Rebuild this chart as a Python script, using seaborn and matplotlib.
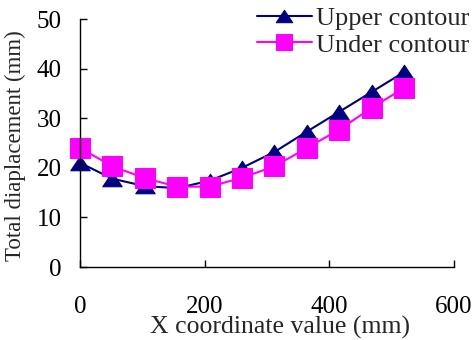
import numpy as np
import pandas as pd
import seaborn as sns
import matplotlib.pyplot as plt
from matplotlib.path import Path

x_mm = [0, 52, 104, 156, 208, 260, 312, 364, 416, 468, 520]
upper = [21.0, 17.8, 16.3, 15.9, 17.4, 20.0, 23.2, 27.3, 31.3, 35.3, 39.3]
under = [24.0, 20.3, 17.9, 16.2, 16.2, 18.0, 20.3, 24.0, 27.7, 32.1, 36.1]
series = ['Upper contour', 'Under contour']

df = pd.concat([
    pd.DataFrame({'x': x_mm, 'disp': upper, 'contour': series[0]}),
    pd.DataFrame({'x': x_mm, 'disp': under, 'contour': series[1]}),
])

sns.set_style('ticks')
plt.rcParams['font.family'] = ['Liberation Serif', 'DejaVu Serif']

# flattened triangle, wider than tall like the excel marker
tri = Path([(-1, -0.75), (1, -0.75), (0, 0.75), (-1, -0.75)],
           [Path.MOVETO, Path.LINETO, Path.LINETO, Path.CLOSEPOLY])

fig = plt.figure(figsize=(4.73, 3.40), dpi=100)
ax = fig.add_axes([80/473, 1 - 267/340, 374/473, 248/340])

sns.lineplot(data=df, x='x', y='disp', hue='contour', style='contour',
             palette={series[0]: '#000080', series[1]: '#FF00FF'},
             markers={series[0]: tri, series[1]: 's'}, dashes=False,
             markersize=14, linewidth=1.5, ax=ax)
for ln in ax.lines:
    ln.set_markeredgecolor(ln.get_color())
    ln.set_clip_on(False)

ax.set_xlim(0, 600)
ax.set_ylim(0, 50)
ax.set_xticks([0, 200, 400, 600])
ax.set_yticks(range(0, 51, 10))
ax.tick_params(axis='both', direction='in', length=5, width=1, colors='black', labelsize=18)
ax.tick_params(axis='x', pad=21)
ax.tick_params(axis='y', pad=13)
for s in ['top', 'right']:
    ax.spines[s].set_visible(False)
for s in ['left', 'bottom']:
    ax.spines[s].set_color('black')
    ax.spines[s].set_linewidth(1)

ax.set_xlabel('X coordinate value (mm)', fontsize=18.5)
ax.set_ylabel('Total diaplacement (mm)', fontsize=16.5)
ax.xaxis.set_label_coords(0.535, -0.198)
ax.yaxis.set_label_coords(-0.145, 0.49)

handles, labels = ax.get_legend_handles_labels()
ax.get_legend().remove()
fig.legend(handles, labels, loc='upper right', bbox_to_anchor=(1.02, 1.02),
           frameon=False, fontsize=19, handlelength=2.1, handletextpad=0.15,
           labelspacing=0.12, borderaxespad=0.1, markerscale=0.85)

fig.savefig('out.png', dpi=100)
